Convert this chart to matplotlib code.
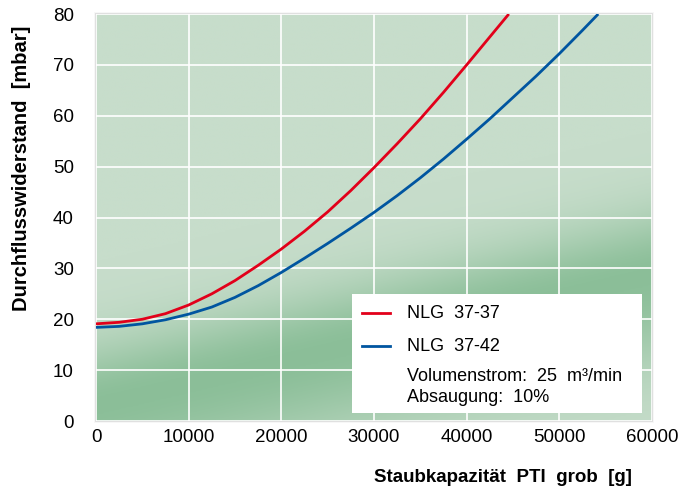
import numpy as np
import matplotlib
matplotlib.use("Agg")
import matplotlib.pyplot as plt
from matplotlib.colors import LinearSegmentedColormap
from matplotlib.patches import Rectangle

# Data
red_x = [0, 2500, 5000, 7500, 10000, 12500, 15000, 17500, 20000, 22500, 25000,
         27500, 30000, 32500, 35000, 37500, 40000, 42500, 44550]
red_y = [19.1, 19.4, 20.0, 21.1, 22.8, 25.0, 27.6, 30.6, 33.8, 37.3, 41.1,
         45.3, 49.8, 54.5, 59.4, 64.6, 70.0, 75.5, 80.0]
blue_x = [0, 2500, 5000, 7500, 10000, 12500, 15000, 17500, 20000, 22500, 25000,
          27500, 30000, 32500, 35000, 37500, 40000, 42500, 45000, 47500, 50000,
          52500, 54200]
blue_y = [18.4, 18.6, 19.1, 19.9, 21.0, 22.4, 24.3, 26.6, 29.2, 32.0, 34.9,
          37.9, 41.0, 44.3, 47.8, 51.5, 55.4, 59.4, 63.6, 67.8, 72.2, 76.8, 80.0]
series_labels = ["NLG  37-37", "NLG  37-42"]
note_lines = ["Volumenstrom:  25  m³/min", "Absaugung:  10%"]
x_ticks = [0, 10000, 20000, 30000, 40000, 50000, 60000]
y_ticks = [0, 10, 20, 30, 40, 50, 60, 70, 80]

plt.rcParams['font.family'] = ['Liberation Sans', 'DejaVu Sans']

fig = plt.figure(figsize=(6.96, 4.88), dpi=100)
ax = fig.add_axes([96/696, 1-421/488, 556/696, 407/488])
ax.set_xlim(0, 60000)
ax.set_ylim(0, 80)

# soft shadow behind the panel
for i, a in enumerate([0.05, 0.04, 0.03]):
    d = (i + 1) * 0.6
    fig.patches.append(Rectangle(((96 - d) / 696, (1 - 421/488) - d/488),
                                 (556 + 2*d) / 696, (407 + 2*d) / 488,
                                 transform=fig.transFigure, facecolor='black',
                                 alpha=a, edgecolor='none', zorder=-1))

# gradient background (smooth diagonal band)
nu, nv = 300, 300
u = np.linspace(0, 1, nu)
v = np.linspace(0, 1, nv)
U, V = np.meshgrid(u, v)
vc = 0.04 + 0.32 * U
w = np.where(V > vc, 0.15, 0.22)
dark = np.exp(-((V - vc) / w) ** 2) * 0.92
cmap = LinearSegmentedColormap.from_list("g", ["#c7ddcb", "#86bc94"])
ax.imshow(dark, extent=[0, 60000, 0, 80], origin='lower', aspect='auto',
          cmap=cmap, vmin=0, vmax=1, zorder=0, interpolation='bilinear')

for s in ax.spines.values():
    s.set_visible(False)
ax.set_xticks(x_ticks)
ax.set_yticks(y_ticks)
ax.set_xticklabels([str(t) for t in x_ticks])
ax.grid(True, color='white', linewidth=1.2, zorder=1)
ax.tick_params(length=0, labelsize=13.5)
ax.tick_params(axis='y', pad=16)
ax.tick_params(axis='x', pad=6)

ax.plot(red_x, red_y, color='#e2001a', lw=2, zorder=3, solid_capstyle='butt',
        solid_joinstyle='round')
ax.plot(blue_x, blue_y, color='#0055a0', lw=2, zorder=3, solid_capstyle='butt',
        solid_joinstyle='round')

# legend box
box = Rectangle((27600, 1.6), 31300, 23.4, facecolor='white', edgecolor='none', zorder=4)
ax.add_patch(box)
ax.plot([28700, 31700], [21.2, 21.2], color='#e2001a', lw=2, zorder=5)
ax.plot([28700, 31700], [14.7, 14.7], color='#0055a0', lw=2, zorder=5)
ax.text(33600, 21.2, series_labels[0], fontsize=13, va='center', zorder=5)
ax.text(33600, 14.7, series_labels[1], fontsize=13, va='center', zorder=5)
ax.text(33600, 8.8, note_lines[0], fontsize=13, va='center', zorder=5)
ax.text(33600, 4.7, note_lines[1], fontsize=13, va='center', zorder=5)

fig.text(22/696, 1-168/488, "Durchflusswiderstand  [mbar]", rotation=90,
         ha='center', va='center', fontsize=14.5, fontweight='bold')
fig.text(632/696, 1-477/488, "Staubkapazität  PTI  grob  [g]", ha='right',
         va='center', fontsize=13.5, fontweight='bold')

fig.savefig("out.png", dpi=100)
